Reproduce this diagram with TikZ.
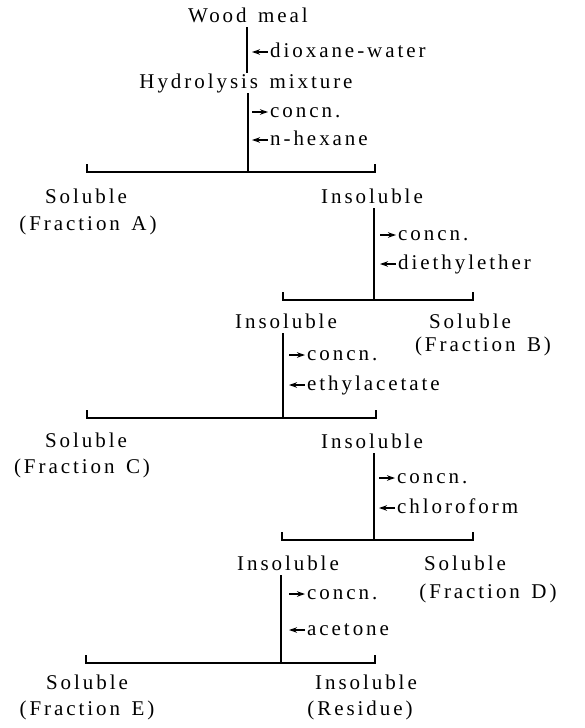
\documentclass[tikz,border=0pt]{standalone}
\usepackage{fontspec}
\setmainfont{Liberation Serif}[LetterSpace=14,WordSpace=1.4]
\usetikzlibrary{arrows.meta}
\begin{document}
\begin{tikzpicture}[x=1pt,y=-1pt,
  lbl/.style={font=\fontsize{21}{23}\selectfont, inner xsep=0pt, inner ysep=1pt, text height=14pt, text depth=4pt},
  sidelbl/.style={lbl, anchor=west},
  link/.style={line width=1.4pt},
  outarr/.style={line width=1.3pt, -{Stealth[length=8pt,width=5.5pt]}},
  inarr/.style={line width=1.3pt, {Stealth[length=8pt,width=5.5pt]}-}]
\useasboundingbox (0,0) rectangle (584,728);
% nodes
\node[lbl] (wood) at (248,17) {Wood meal};
\node[sidelbl] (dw) at (270,52) {dioxane\kern3pt-water};
\node[lbl] (hyd) at (246,83) {Hydrolysis mixture};
\node[sidelbl] (c1) at (270,112) {concn.};
\node[sidelbl] (hx) at (270,140) {n-hexane};
\node[lbl] (solA) at (86,198) {Soluble};
\node[lbl] (frA) at (88,225) {(Fraction A)};
\node[lbl] (ins1) at (372,198) {Insoluble};
\node[sidelbl] (c2) at (398,235) {concn.};
\node[sidelbl] (de) at (398,264) {diethylether};
\node[lbl] (ins2) at (286,323) {Insoluble};
\node[lbl] (solB) at (470,323) {Soluble};
\node[lbl] (frB) at (483,346) {(Fraction B)};
\node[sidelbl] (c3) at (307,355) {concn.};
\node[sidelbl] (ea) at (307,385) {ethylacetate};
\node[lbl] (solC) at (86,442) {Soluble};
\node[lbl] (frC) at (82,468) {(Fraction C)};
\node[lbl] (ins3) at (372,443) {Insoluble};
\node[sidelbl] (c4) at (397,478) {concn.};
\node[sidelbl] (cf) at (397,508) {chloroform};
\node[lbl] (ins4) at (288,565) {Insoluble};
\node[lbl] (solD) at (465,565) {Soluble};
\node[lbl] (frD) at (488,593) {(Fraction D)};
\node[sidelbl] (c5) at (307,594) {concn.};
\node[sidelbl] (ac) at (307,630) {acetone};
\node[lbl] (solE) at (87,684) {Soluble};
\node[lbl] (frE) at (87,710) {(Fraction E)};
\node[lbl] (insR) at (366,684) {Insoluble};
\node[lbl] (res) at (360,710) {(Residue)};
% junctions and bar ends
\coordinate (v0) at (247,0);
\coordinate (j1) at (248,172);
\coordinate (a1) at (87,172);  \coordinate (b1) at (375,172);
\coordinate (j2) at (374,300);
\coordinate (a2) at (283,300); \coordinate (b2) at (473,300);
\coordinate (j3) at (283,418);
\coordinate (a3) at (87,418);  \coordinate (b3) at (376,418);
\coordinate (j4) at (374,540);
\coordinate (a4) at (282,540); \coordinate (b4) at (473,540);
\coordinate (j5) at (281,663);
\coordinate (a5) at (86,663);  \coordinate (b5) at (375,663);
% vertical links
\draw[link] (wood.south -| v0) -- (hyd.north -| v0);
\draw[link] (hyd.south -| j1) -- (j1);
\draw[link] (ins1.south -| j2) -- (j2);
\draw[link] (ins2.south -| j3) -- (j3);
\draw[link] (ins3.south -| j4) -- (j4);
\draw[link] (ins4.south -| j5) -- (j5);
% bars with end ticks
\draw[link] ([yshift=8pt]a1) -- (a1) -- (b1) -- ([yshift=8pt]b1);
\draw[link] ([yshift=8pt]a2) -- (a2) -- (b2) -- ([yshift=8pt]b2);
\draw[link] ([yshift=8pt]a3) -- (a3) -- (b3) -- ([yshift=8pt]b3);
\draw[link] ([yshift=8pt]a4) -- (a4) -- (b4) -- ([yshift=8pt]b4);
\draw[link] ([yshift=8pt]a5) -- (a5) -- (b5) -- ([yshift=8pt]b5);
% side arrows
\draw[inarr] ([xshift=-18pt]dw.west) -- ([xshift=-2pt]dw.west);
\draw[outarr] ([xshift=-18pt]c1.west) -- ([xshift=-2pt]c1.west);
\draw[inarr] ([xshift=-18pt]hx.west) -- ([xshift=-2pt]hx.west);
\draw[outarr] ([xshift=-18pt]c2.west) -- ([xshift=-2pt]c2.west);
\draw[inarr] ([xshift=-18pt]de.west) -- ([xshift=-2pt]de.west);
\draw[outarr] ([xshift=-18pt]c3.west) -- ([xshift=-2pt]c3.west);
\draw[inarr] ([xshift=-18pt]ea.west) -- ([xshift=-2pt]ea.west);
\draw[outarr] ([xshift=-18pt]c4.west) -- ([xshift=-2pt]c4.west);
\draw[inarr] ([xshift=-18pt]cf.west) -- ([xshift=-2pt]cf.west);
\draw[outarr] ([xshift=-18pt]c5.west) -- ([xshift=-2pt]c5.west);
\draw[inarr] ([xshift=-18pt]ac.west) -- ([xshift=-2pt]ac.west);
\end{tikzpicture}
\end{document}
